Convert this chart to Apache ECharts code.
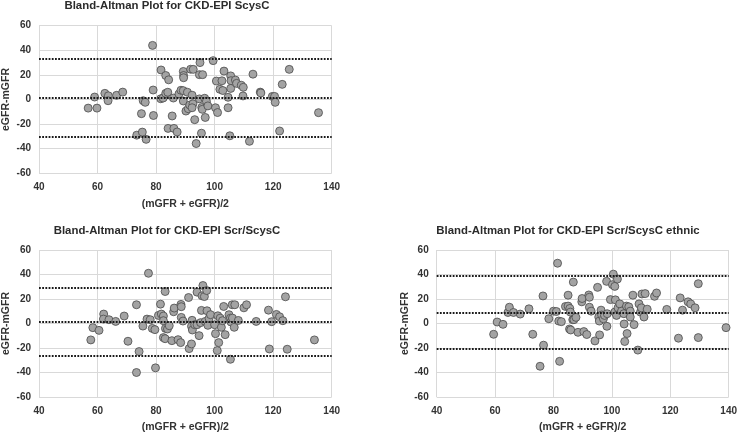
<!DOCTYPE html>
<html>
<head>
<meta charset="utf-8">
<script src="https://cdn.jsdelivr.net/npm/echarts@6/dist/echarts.min.js"></script>
<style>
html,body{margin:0;padding:0;background:#fff;}
#chart{width:740px;height:434px;}
</style>
</head>
<body>
<div id="chart"></div>
<script>
// ---- Data ----
var titles = [
  'Bland-Altman Plot for CKD-EPI ScysC',
  'Bland-Altman Plot for CKD-EPI Scr/ScysC',
  'Bland-Altman Plot for CKD-EPI Scr/ScysC ethnic'
];
var xAxisName = '(mGFR + eGFR)/2';
var yAxisName = 'eGFR-mGFR';
var xTicks = [40, 60, 80, 100, 120, 140];
var yTicks = [-60, -40, -20, 0, 20, 40, 60];

// Panel 1: CKD-EPI ScysC
var scysMean = [56.8,59,59.8,62.5,63.7,63.6,66.5,68.6,73.4,75,75.3,75.6,76.3,76.6,78.8,79,79.1,81.7,81.6,82.4,83.3,83.3,84,84.3,84.1,85.5,85.9,86.1,87.2,87.8,88.5,89.3,89.3,89.4,89.4,89.3,90.2,90.7,91,91.5,91.8,92.7,92.3,92.6,92.3,93.2,93.7,94.8,95,94.8,95.9,95.6,95.8,95.5,96.6,96.8,97.2,97.7,99.5,100.3,100.6,101,101.8,102.5,102.8,103.2,104.6,104.6,105.2,105.5,105.6,105.5,107.1,107.5,109.1,109.8,109.7,111.9,113.1,115.6,115.8,119.7,120.5,120.7,122.2,123.1,125.5,135.5];
var scysDiff = [-7,2,-7,5,3,-1,3.4,6,-29,-11.5,-26.5,-1,-2.3,-32.4,44,7.7,-13,24,0.6,1.2,19.5,5,5.9,16,-23.5,-13.4,1.2,-23.5,-26.4,4.5,7.5,7.2,22.8,19.5,17.7,-1.2,-9.4,5.9,-7.5,-4.5,24.6,24.5,3.5,-3.5,-6.7,-16.4,-35.8,0.5,30,20.2,20.2,-6.5,-8,-27.4,1,-14.6,-1.5,-5.2,31.6,-6.7,15,-10.6,8.3,15.2,7.3,23.1,1.8,-6.7,-29.5,19.2,15.3,9,15.8,13.1,11.6,9.9,2.9,-34,20.6,6,5.3,2.5,2.5,-2.3,-25.6,12.3,24.5,-10.7];
var scysLines = [33.4, 1.2, -30];

// Panel 2: CKD-EPI Scr/ScysC
var scrScysMean = [57.7,58.4,60.5,62.1,62,63.9,66.2,69.1,70.4,73.3,73.3,74.2,75.5,76.9,77.4,78,78.7,79.6,79.8,80.8,81.5,81.8,82.5,82.5,83.1,82.5,83.1,83.2,83.9,84.5,85.4,86,86.2,87.5,88.5,88.6,88.6,88.4,89.2,91.1,91.3,92.1,92.3,92.1,92.4,93.2,94,94,94.7,95.2,95.5,96,95.7,96.5,97.3,96.8,97.4,97.7,98.1,98.6,100,100.3,100.9,101.1,101.4,101.9,102.3,102.7,103.1,103.6,104.9,105.4,105.6,105.4,106,106.9,106.7,106.1,108.1,110,110.9,114.2,118.4,118.7,119.5,121.1,122.2,123.3,124.2,124.8,134.1];
var scrScysDiff = [-13.4,-3.4,-5.6,7.7,3.6,3.1,1.7,6.1,-14.5,15.3,-40,-22.9,-2.1,3.6,41,3.1,-4,-5,-36.2,6.6,15.8,7.7,6.1,2.3,26.1,-11.5,-12.4,-4,-4.5,-1.8,-14,9.6,12.6,-13.2,15.6,13.7,5,-15.6,2,21.2,-20.5,-16.7,2.6,-2.3,-5.3,-1,25.6,-1,-9.9,0.7,10.7,31,22.6,22,26.9,1.7,10.4,-1.5,4.2,7.2,-1,-8.3,-22.1,6.3,-15.6,4.4,-3.1,2.3,13.9,-9.1,7.2,4.4,1.2,-29.2,15.3,15.3,-3.1,4.4,2.5,12.8,15.3,1.7,10.9,-20.8,1.5,7.4,5.5,2.3,21.8,-21,-13.4];
var scrScysLines = [29.4, 1.2, -26.7];

// Panel 3: CKD-EPI Scr/ScysC ethnic
var ethnicMean = [59.5,60.7,62.7,64.4,64.9,66.3,68.6,71.6,72.9,76.4,76.6,75.4,78.4,80,81,81.4,81.8,82.7,82.1,84.1,85,85,85.6,85.8,85.5,85.9,86.6,87,86.8,87.7,88.4,89.7,89.8,90.4,91.4,92.1,92.3,92.3,92.9,94.2,95.1,95.5,95.7,95.8,96.3,96.5,97.1,97.5,98.2,98.3,98.4,99.5,100.2,100.5,101,101.2,101,101.6,101.9,102.1,102.7,103.3,104.1,104.2,104.4,105,105.2,105.8,106.3,106.3,107.2,107.6,108.9,109.3,109.8,110.1,110.3,111.4,111,112.1,114.6,115.3,118.8,122.8,123.4,124.2,126.1,127,128.5,129.6,129.6,139.1];
var ethnicDiff = [-8.8,1.2,-0.7,9,13.3,9,7.7,12,-8.8,22.5,-17.7,-34.9,3.9,10.1,9.8,49.2,2,1.5,-30.9,13.9,23.1,14.2,12.3,9.3,-4.5,-5.3,3.1,3.1,33.8,5,-7.2,17.7,20.4,-6.6,-9,23.3,21.4,13.3,10.1,-14.2,29.5,5.3,2,-9.3,10.9,6.9,3.9,6.6,34.4,-2.3,8,19.5,31.7,40.3,30.3,19.3,9.3,6.6,36.3,12.8,16,10.1,8,-0.4,-14.7,14.2,-8.2,13.6,10.1,5.3,23.1,-0.9,-21.7,16,9.3,12.8,24.1,24.4,5.3,11.7,22.2,24.9,11.5,-12,20.9,10.9,17.7,16,12.8,32.5,-11.5,-3.4];
var ethnicLines = [38.7, 8.8, -20.4];

// ---- Layout / style ----
var FONT = 'Liberation Sans, Arial, sans-serif';
var panels = [
  {x: scysMean, y: scysDiff, lines: scysLines, grid: {left: 36, top: 25.7, width: 295.7, height: 147.6}, titleX: 167, titleY: 0.5, yNameGap: 27},
  {x: scrScysMean, y: scrScysDiff, lines: scrScysLines, grid: {left: 36, top: 250, width: 295.7, height: 147.7}, titleX: 167, titleY: 225.5, yNameGap: 27},
  {x: ethnicMean, y: ethnicDiff, lines: ethnicLines, grid: {left: 436.7, top: 250, width: 295, height: 148.3}, titleX: 568, titleY: 225.5, yNameGap: 23}
];

function pairs(xs, ys) {
  var out = [];
  for (var i = 0; i < xs.length; i++) out.push([xs[i], ys[i]]);
  return out;
}

var option = {
  backgroundColor: '#fff',
  animation: false,
  title: [], grid: [], xAxis: [], yAxis: [], series: []
};

panels.forEach(function (p, i) {
  option.title.push({
    text: titles[i], left: p.titleX, top: p.titleY, textAlign: 'center', padding: 0,
    textStyle: {fontFamily: FONT, fontSize: 11.4, fontWeight: 'bold', color: '#2b2b2b'}
  });
  option.grid.push(Object.assign({containLabel: false}, p.grid));
  option.xAxis.push({
    type: 'value', gridIndex: i, min: xTicks[0], max: xTicks[xTicks.length - 1], interval: 20,
    name: xAxisName, nameLocation: 'middle', nameGap: 25,
    nameTextStyle: {fontFamily: FONT, fontSize: 10.5, fontWeight: 'bold', color: '#333'},
    axisLine: {show: false}, axisTick: {show: false},
    axisLabel: {fontFamily: FONT, fontSize: 10, fontWeight: 'bold', color: '#333', margin: 9},
    splitLine: {show: true, lineStyle: {color: '#d9d9d9', width: 1}}
  });
  option.yAxis.push({
    type: 'value', gridIndex: i, min: yTicks[0], max: yTicks[yTicks.length - 1], interval: 20,
    name: yAxisName, nameLocation: 'middle', nameGap: p.yNameGap, nameRotate: 90,
    nameTextStyle: {fontFamily: FONT, fontSize: 10.5, fontWeight: 'bold', color: '#333'},
    axisLine: {show: false}, axisTick: {show: false},
    axisLabel: {fontFamily: FONT, fontSize: 10, fontWeight: 'bold', color: '#333', margin: 8},
    splitLine: {show: true, lineStyle: {color: '#d9d9d9', width: 1}}
  });
  option.series.push({
    type: 'scatter', xAxisIndex: i, yAxisIndex: i,
    data: pairs(p.x, p.y),
    symbol: 'circle', symbolSize: 8,
    itemStyle: {color: '#a3a3a3', borderColor: '#4a4a4a', borderWidth: 0.8, opacity: 1},
    markLine: {
      silent: true, symbol: 'none', animation: false,
      label: {show: false},
      lineStyle: {color: '#1a1a1a', width: 1.8, type: [1.8, 1.4]},
      emphasis: {disabled: true},
      data: p.lines.map(function (v) { return {yAxis: v}; })
    },
    z: 3
  });
});

var chart = echarts.init(document.getElementById('chart'), null, {renderer: 'canvas'});
chart.setOption(option);
</script>
</body>
</html>
